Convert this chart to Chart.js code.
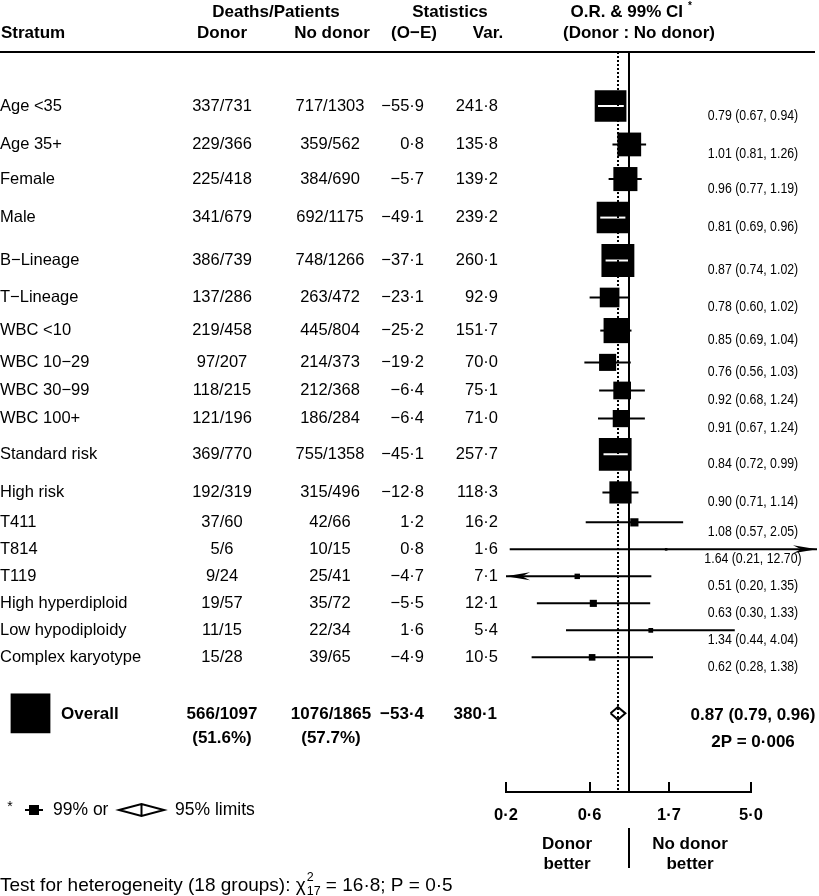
<!DOCTYPE html>
<html>
<head>
<meta charset="utf-8">
<script src="https://cdn.jsdelivr.net/npm/chart.js@4.4.1/dist/chart.umd.min.js"></script>
<style>
  html, body { margin:0; padding:0; background:#fff; overflow:hidden; }
  #wrap { width:819px; height:896px; position:relative; }
</style>
</head>
<body>
<div id="wrap"><canvas id="forest"></canvas></div>
<script>
// forest plot: donor vs no donor, per stratum
const strata = ['Age <35','Age 35+','Female','Male','B\u2212Lineage','T\u2212Lineage','WBC <10','WBC 10\u221229',
  'WBC 30\u221299','WBC 100+','Standard risk','High risk','T411','T814','T119','High hyperdiploid',
  'Low hypodiploidy','Complex karyotype'];
const donorDeaths = ['337/731','229/366','225/418','341/679','386/739','137/286','219/458','97/207','118/215',
  '121/196','369/770','192/319','37/60','5/6','9/24','19/57','11/15','15/28'];
const noDonorDeaths = ['717/1303','359/562','384/690','692/1175','748/1266','263/472','445/804','214/373','212/368',
  '186/284','755/1358','315/496','42/66','10/15','25/41','35/72','22/34','39/65'];
const oMinusE = [-55.9,0.8,-5.7,-49.1,-37.1,-23.1,-25.2,-19.2,-6.4,-6.4,-45.1,-12.8,1.2,0.8,-4.7,-5.5,1.6,-4.9];
const variance = [241.8,135.8,139.2,239.2,260.1,92.9,151.7,70.0,75.1,71.0,257.7,118.3,16.2,1.6,7.1,12.1,5.4,10.5];
const oddsRatio = [0.79,1.01,0.96,0.81,0.87,0.78,0.85,0.76,0.92,0.91,0.84,0.90,1.08,1.64,0.51,0.63,1.34,0.62];
const ciLow = [0.67,0.81,0.77,0.69,0.74,0.60,0.69,0.56,0.68,0.67,0.72,0.71,0.57,0.21,0.20,0.30,0.44,0.28];
const ciHigh = [0.94,1.26,1.19,0.96,1.02,1.02,1.04,1.03,1.24,1.24,0.99,1.14,2.05,12.70,1.35,1.33,4.04,1.38];

const overallCounts = ['566/1097','1076/1865'];
const overallPct = ['(51.6%)','(57.7%)'];
const overallOE = -53.4;
const overallVar = 380.1;
const overallCI = [0.87, 0.79, 0.96]; // OR, 95% low, 95% high
const overallP = '2P = 0\u00b7006';

const xTicks = [0.2, 0.6, 1.7, 5.0];
const xTickLabels = ['0\u00b72','0\u00b76','1\u00b77','5\u00b70'];
const xMin = 0.2, xMax = 11.9;

const FF = '"Liberation Sans", Arial, Helvetica, sans-serif';

// box area proportional to variance, rows spaced by box size
const boxSide = v => 2.04 * Math.sqrt(v);
const rowH = i => Math.max(boxSide(variance[i]) + 10.7, 27);
const rowY = [];
let yy = 106;
strata.forEach((s, i) => {
  if (i > 0) yy += rowH(i - 1) / 2 + rowH(i) / 2;
  rowY.push(yy);
});
const overallY = rowY[rowY.length - 1] + 56;

const dec = v => (v < 0 ? '\u2212' : '') + Math.abs(v).toFixed(1).replace('.', '\u00b7');
const ciText = i => oddsRatio[i].toFixed(2) + ' (' + ciLow[i].toFixed(2) + ', ' + ciHigh[i].toFixed(2) + ')';

const whiskerData = [];
strata.forEach((s, i) => {
  whiskerData.push({x: ciLow[i], y: rowY[i]}, {x: ciHigh[i], y: rowY[i]}, {x: null, y: null});
});
const boxData = strata.map((s, i) => ({x: oddsRatio[i], y: rowY[i]}));
const diamondData = [
  {x: overallCI[1], y: overallY}, {x: overallCI[0], y: overallY - 6.3},
  {x: overallCI[2], y: overallY}, {x: overallCI[0], y: overallY + 6.3},
  {x: overallCI[1], y: overallY}
];

function arrowHead(ctx, tipX, y, dir) {
  const L = 24, H = 4, N = 8;
  ctx.beginPath();
  ctx.moveTo(tipX, y);
  ctx.lineTo(tipX - dir * L, y - H);
  ctx.lineTo(tipX - dir * (L - N), y);
  ctx.lineTo(tipX - dir * L, y + H);
  ctx.closePath();
  ctx.fill();
}

function put(ctx, s, x, y, align, font) {
  ctx.font = font;
  ctx.textAlign = align;
  ctx.fillText(s, x, y);
}

const forestDecor = {
  id: 'forestDecor',
  afterDatasetsDraw(chart) {
    const ctx = chart.ctx, xs = chart.scales.x;
    const top = 52, axisY = 792;
    ctx.save();
    ctx.strokeStyle = '#000';
    ctx.fillStyle = '#000';
    ctx.lineWidth = 2;
    // line of no effect
    const x1 = Math.round(xs.getPixelForValue(1));
    ctx.beginPath(); ctx.moveTo(x1, top); ctx.lineTo(x1, axisY); ctx.stroke();
    // overall estimate, dotted
    const xo = Math.round(xs.getPixelForValue(overallCI[0]));
    ctx.setLineDash([2, 2]);
    ctx.beginPath(); ctx.moveTo(xo, top); ctx.lineTo(xo, axisY); ctx.stroke();
    ctx.setLineDash([]);
    // arrows for CIs running off the scale
    strata.forEach((s, i) => {
      if (ciLow[i] <= xMin) arrowHead(ctx, xs.getPixelForValue(xMin), rowY[i], -1);
      if (ciHigh[i] > xMax) arrowHead(ctx, chart.chartArea.right, rowY[i], 1);
    });
    // axis
    const a0 = xs.getPixelForValue(xTicks[0]), a1 = xs.getPixelForValue(xTicks[xTicks.length - 1]);
    ctx.beginPath(); ctx.moveTo(a0 - 1, axisY); ctx.lineTo(a1 + 1, axisY); ctx.stroke();
    xTicks.forEach((t, k) => {
      const px = Math.round(xs.getPixelForValue(t));
      ctx.beginPath(); ctx.moveTo(px, axisY - 10); ctx.lineTo(px, axisY); ctx.stroke();
    });
    ctx.restore();
  },
  afterDraw(chart) {
    const ctx = chart.ctx, xs = chart.scales.x;
    const bold = 'bold 17px ' + FF, reg = '16.5px ' + FF;
    ctx.save();
    ctx.fillStyle = '#000';
    ctx.strokeStyle = '#000';
    ctx.textBaseline = 'middle';

    // header
    put(ctx, 'Deaths/Patients', 276, 12, 'center', bold);
    put(ctx, 'Statistics', 450, 12, 'center', bold);
    put(ctx, 'O.R. & 99% CI', 683, 12, 'right', bold);
    put(ctx, '*', 688, 6, 'left', 'bold 10px ' + FF);
    put(ctx, 'Stratum', 1, 33, 'left', bold);
    put(ctx, 'Donor', 222, 33, 'center', bold);
    put(ctx, 'No donor', 332, 33, 'center', bold);
    put(ctx, '(O\u2212E)', 414, 33, 'center', bold);
    put(ctx, 'Var.', 488, 33, 'center', bold);
    put(ctx, '(Donor : No donor)', 715, 33, 'right', bold);
    ctx.lineWidth = 2;
    ctx.beginPath(); ctx.moveTo(0, 52); ctx.lineTo(815, 52); ctx.stroke();

    // rows
    strata.forEach((s, i) => {
      const y = rowY[i];
      put(ctx, s, 0, y, 'left', reg);
      put(ctx, donorDeaths[i], 222, y, 'center', reg);
      put(ctx, noDonorDeaths[i], 330, y, 'center', reg);
      put(ctx, dec(oMinusE[i]), 424, y, 'right', reg);
      put(ctx, dec(variance[i]), 498, y, 'right', reg);
      ctx.save();
      ctx.translate(753, y + 10);
      ctx.scale(0.88, 1);
      put(ctx, ciText(i), 0, 0, 'center', '14px ' + FF);
      ctx.restore();
    });

    // overall row
    const oy = overallY;
    const side = boxSide(overallVar);
    ctx.fillRect(30.5 - side / 2, oy - side / 2, side, side);
    put(ctx, 'Overall', 61, oy + 1, 'left', bold);
    put(ctx, overallCounts[0], 222, oy + 1, 'center', bold);
    put(ctx, overallPct[0], 222, oy + 25, 'center', bold);
    put(ctx, overallCounts[1], 331, oy + 1, 'center', bold);
    put(ctx, overallPct[1], 331, oy + 25, 'center', bold);
    put(ctx, dec(overallOE), 424, oy + 1, 'right', bold);
    put(ctx, dec(overallVar), 497, oy + 1, 'right', bold);
    put(ctx, overallCI[0].toFixed(2) + ' (' + overallCI[1].toFixed(2) + ', ' + overallCI[2].toFixed(2) + ')', 753, oy + 2, 'center', bold);
    put(ctx, overallP, 753, oy + 29, 'center', bold);

    // axis labels
    xTicks.forEach((t, k) => put(ctx, xTickLabels[k], xs.getPixelForValue(t), 815, 'center', 'bold 16.5px ' + FF));
    put(ctx, 'Donor', 567, 844, 'center', bold);
    put(ctx, 'better', 567, 864, 'center', bold);
    put(ctx, 'No donor', 690, 844, 'center', bold);
    put(ctx, 'better', 690, 864, 'center', bold);
    const x1 = Math.round(xs.getPixelForValue(1));
    ctx.lineWidth = 2;
    ctx.beginPath(); ctx.moveTo(x1, 828); ctx.lineTo(x1, 868); ctx.stroke();

    // footnote key
    const ky = 810;
    const keyFont = '17.5px ' + FF;
    put(ctx, '*', 10, ky - 3, 'center', '14px ' + FF);
    ctx.beginPath(); ctx.moveTo(25, ky); ctx.lineTo(43, ky); ctx.stroke();
    ctx.fillRect(29, ky - 5, 10, 10);
    put(ctx, '99% or', 53, ky, 'left', keyFont);
    ctx.beginPath();
    ctx.moveTo(119, ky); ctx.lineTo(141.5, ky - 6); ctx.lineTo(164, ky); ctx.lineTo(141.5, ky + 6); ctx.closePath();
    ctx.moveTo(141.5, ky - 6); ctx.lineTo(141.5, ky + 6);
    ctx.stroke();
    put(ctx, '95% limits', 175, ky, 'left', keyFont);

    // heterogeneity
    const hy = 886;
    const hetFont = '19px ' + FF, scriptFont = '12.5px ' + FF;
    const s1 = 'Test for heterogeneity (18 groups): \u03c7';
    put(ctx, s1, 0, hy, 'left', hetFont);
    ctx.font = hetFont;
    const w1 = ctx.measureText(s1).width + 1;
    put(ctx, '2', w1, hy - 8, 'left', scriptFont);
    put(ctx, '17', w1, hy + 6, 'left', scriptFont);
    ctx.font = scriptFont;
    const w2 = ctx.measureText('17').width;
    put(ctx, ' = 16\u00b78; P = 0\u00b75', w1 + w2, hy, 'left', hetFont);
    ctx.restore();
  }
};

const forest = new Chart(document.getElementById('forest'), {
  type: 'scatter',
  data: {
    datasets: [
      {
        type: 'line',
        label: 'CI',
        data: whiskerData,
        order: 0,
        borderColor: '#000',
        borderWidth: 2,
        pointRadius: 0,
        spanGaps: false,
        tension: 0,
        segment: {
          borderColor: c => {
            const ch = Chart.getChart('forest');
            const i = Math.floor(c.p0DataIndex / 3);
            const cx = ch.scales.x.getPixelForValue(oddsRatio[i]);
            const half = boxSide(variance[i]) / 2;
            return (c.p0.x >= cx - half && c.p1.x <= cx + half) ? '#fff' : '#000';
          }
        }
      },
      {
        type: 'line',
        label: 'Overall',
        data: diamondData,
        order: 0,
        borderColor: '#000',
        borderWidth: 2,
        borderJoinStyle: 'miter',
        pointRadius: 0,
        fill: false,
        tension: 0
      },
      {
        label: 'OR',
        data: boxData,
        order: 1,
        pointStyle: 'rect',
        pointRadius: variance.map(v => boxSide(v) / Math.SQRT2),
        pointHoverRadius: variance.map(v => boxSide(v) / Math.SQRT2),
        pointBackgroundColor: '#000',
        pointBorderWidth: 0
      }
    ]
  },
  options: {
    responsive: true,
    maintainAspectRatio: false,
    animation: false,
    events: [],
    layout: { autoPadding: false, padding: { left: 506, right: 2, top: 0, bottom: 0 } },
    scales: {
      x: { type: 'logarithmic', min: xMin, max: xMax, display: false },
      y: { type: 'linear', min: 0, max: 896, reverse: true, display: false }
    },
    plugins: { legend: { display: false }, tooltip: { enabled: false } }
  },
  plugins: [forestDecor]
});
</script>
</body>
</html>
